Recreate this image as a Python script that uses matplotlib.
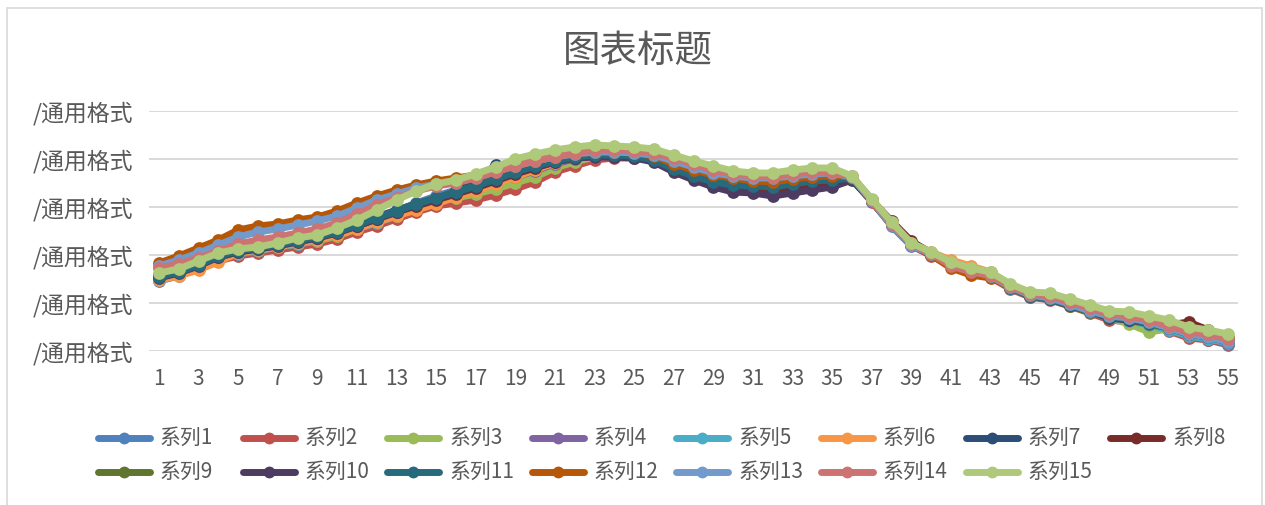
import numpy as np
import matplotlib
matplotlib.use("Agg")
import matplotlib.pyplot as plt
from matplotlib.lines import Line2D
from matplotlib.patches import Rectangle

plt.rcParams['font.family'] = ['Noto Sans CJK SC', 'DejaVu Sans']

title = '图表标题'
ylabel_text = '/通用格式'
categories = np.arange(1, 56)
series_names = ['系列%d' % k for k in range(1, 16)]
colors = ['#4F81BD', '#C0504D', '#9BBB59', '#8064A2', '#4BACC6',
          '#F79646', '#2C4D75', '#772C2A', '#5F7530', '#4D3B62',
          '#276A7C', '#B65708', '#729ACA', '#CD7371', '#AFC97A']

s1 = [70, 75, 83, 93, 99, 101, 105, 108, 111, 118, 125, 132, 140, 148, 155, 161, 168, 175, 182, 188,
      193, 197, 198, 198, 196, 193, 185, 179, 173, 169, 167, 167, 170, 173, 175, 173, 150, 125, 105, 96,
      87, 81, 75, 63, 54, 52, 46, 39, 32, 31, 27, 21, 15, 11, 6]
s2 = [72, 76, 82, 90, 95, 98, 101, 104, 107, 112, 119, 125, 132, 139, 145, 148, 151, 156, 162, 169,
      179, 185, 191, 193, 193, 191, 183, 177, 173, 169, 167, 167, 169, 172, 174, 173, 149, 126, 106, 95,
      86, 79, 74, 62, 54, 51, 45, 38, 31, 29, 25, 20, 13, 11, 7]
s3 = [75, 79, 85, 93, 98, 101, 104, 107, 110, 115, 122, 129, 136, 143, 149, 153, 157, 162, 168, 174,
      183, 189, 194, 196, 195, 193, 186, 179, 174, 170, 168, 167, 170, 173, 175, 174, 151, 127, 107, 97,
      88, 81, 76, 64, 55, 52, 46, 40, 33, 27, 19, 22, 16, 13, 9]
s4 = [73, 78, 85, 94, 99, 102, 105, 109, 113, 118, 124, 131, 138, 146, 152, 157, 162, 168, 174, 180,
      187, 192, 196, 197, 196, 194, 187, 181, 176, 172, 170, 170, 172, 175, 177, 174, 150, 126, 106, 97,
      87, 80, 76, 64, 56, 53, 48, 42, 36, 33, 29, 24, 20, 18, 13]
s5 = [71, 76, 83, 92, 97, 100, 104, 107, 111, 116, 122, 128, 135, 143, 150, 156, 162, 169, 176, 183,
      189, 194, 197, 198, 197, 194, 186, 180, 175, 171, 169, 168, 171, 173, 175, 174, 150, 126, 106, 97,
      87, 80, 75, 63, 55, 52, 46, 39, 33, 30, 26, 21, 15, 12, 8]
s6 = [71, 75, 81, 89, 98, 101, 104, 108, 111, 116, 122, 129, 135, 141, 147, 154, 160, 167, 174, 181,
      188, 194, 197, 198, 196, 193, 185, 179, 174, 170, 169, 169, 172, 174, 176, 174, 151, 128, 108, 99,
      91, 85, 79, 66, 57, 54, 48, 41, 35, 33, 29, 24, 18, 15, 11]
s7 = [75, 79, 87, 95, 100, 103, 107, 111, 114, 120, 127, 134, 141, 147, 152, 160, 170, 186, 184, 187,
      191, 194, 195, 196, 195, 191, 181, 173, 167, 163, 162, 161, 163, 165, 167, 172, 150, 127, 107, 98,
      88, 82, 77, 65, 56, 53, 47, 40, 34, 32, 28, 23, 17, 14, 9]
s8 = [76, 80, 88, 95, 100, 103, 106, 110, 113, 118, 125, 132, 139, 145, 151, 157, 163, 170, 177, 183,
      189, 193, 195, 196, 194, 190, 181, 174, 168, 164, 159, 158, 162, 165, 167, 173, 151, 130, 110, 98,
      87, 81, 76, 64, 56, 53, 47, 41, 34, 33, 29, 26, 29, 21, 13]
s9 = [74, 79, 86, 94, 99, 102, 106, 110, 114, 119, 126, 133, 140, 147, 153, 159, 165, 172, 179, 185,
      191, 195, 197, 197, 196, 193, 184, 177, 172, 168, 167, 166, 169, 171, 173, 173, 151, 128, 108, 98,
      88, 81, 76, 64, 55, 52, 45, 39, 33, 31, 27, 23, 17, 14, 10]
s10 = [73, 78, 85, 94, 99, 102, 105, 109, 113, 119, 125, 132, 139, 146, 152, 158, 164, 171, 178, 184,
       189, 193, 194, 194, 193, 189, 179, 171, 164, 159, 158, 155, 158, 161, 164, 171, 150, 127, 107, 97,
       87, 81, 76, 64, 55, 52, 46, 40, 33, 31, 28, 24, 19, 15, 10]
s11 = [74, 79, 86, 95, 100, 103, 106, 110, 114, 119, 126, 133, 140, 147, 153, 159, 165, 172, 179, 185,
       190, 194, 196, 196, 195, 191, 182, 175, 169, 166, 165, 164, 167, 170, 171, 173, 150, 127, 107, 97,
       87, 80, 75, 63, 55, 52, 46, 40, 34, 32, 28, 23, 17, 14, 11]
s12 = [88, 95, 103, 111, 121, 125, 127, 131, 134, 140, 148, 155, 161, 166, 170, 173, 176, 181, 186, 191,
       195, 197, 199, 199, 198, 195, 187, 181, 176, 173, 170, 169, 172, 174, 175, 174, 151, 128, 107, 96,
       83, 76, 73, 64, 56, 54, 48, 43, 36, 34, 31, 26, 20, 17, 13]
s13 = [85, 91, 98, 106, 114, 119, 122, 126, 130, 135, 143, 151, 157, 163, 167, 170, 174, 180, 185, 190,
       194, 197, 199, 199, 198, 196, 190, 184, 178, 175, 173, 173, 175, 177, 178, 174, 150, 126, 106, 97,
       87, 80, 75, 64, 56, 53, 47, 40, 35, 33, 29, 23, 17, 14, 9]
s14 = [83, 87, 93, 100, 107, 111, 114, 118, 122, 128, 137, 146, 153, 160, 165, 168, 173, 179, 185, 190,
       194, 198, 201, 201, 200, 198, 193, 187, 181, 177, 175, 174, 177, 179, 179, 175, 151, 127, 107, 98,
       85, 79, 76, 65, 57, 55, 49, 43, 37, 35, 31, 25, 19, 17, 12]
s15 = [78, 82, 90, 98, 102, 104, 108, 113, 116, 123, 131, 141, 151, 160, 167, 171, 177, 184, 192, 197,
       201, 204, 206, 205, 204, 202, 196, 190, 185, 180, 178, 178, 181, 183, 183, 175, 152, 129, 108, 99,
       89, 83, 79, 67, 59, 58, 52, 46, 40, 39, 35, 31, 24, 21, 17]

all_series = [s1, s2, s3, s4, s5, s6, s7, s8, s9, s10, s11, s12, s13, s14, s15]
yticks = [0, 48, 96, 144, 192, 240]

W, H = 1265, 505
fig = plt.figure(figsize=(W / 100, H / 100), dpi=100)
txt = '#595959'
lw, ms = 5.0, 9.2

# light frame around the chart
fig.patches.append(Rectangle((7 / W, -0.02), 1255 / W, 1 - 8 / H + 0.02, transform=fig.transFigure,
                             fill=False, edgecolor='#d9d9d9', linewidth=1.2))

ax = fig.add_axes([149 / W, (H - 351) / H, (1238 - 149) / W, (351 - 111) / H])
for y in yticks:
    ax.axhline(y, color='#d9d9d9', linewidth=1.4, zorder=0)

for name, vals, c in zip(series_names, all_series, colors):
    ax.plot(categories, vals, color=c, linewidth=lw, marker='o', markersize=ms,
            markeredgewidth=0, solid_capstyle='round', solid_joinstyle='round', label=name)

ax.set_xlim(0.5, 55.5)
ax.set_ylim(0, 240)
ax.set_xticks(categories[::2])
ax.set_xticklabels([str(v) for v in categories[::2]], fontsize=15, color=txt)
ax.set_yticks(yticks)
ax.set_yticklabels([ylabel_text] * len(yticks), fontsize=16.5, color=txt)
ax.tick_params(length=0, pad=11)
ax.tick_params(axis='x', pad=12)
for sp in ax.spines.values():
    sp.set_visible(False)

fig.text(638 / W, 1 - 51 / H, title, ha='center', va='center', fontsize=27, color=txt)

# legend laid out on a fixed grid, 8 per row
for k, (name, c) in enumerate(zip(series_names, colors)):
    row, col = divmod(k, 8)
    x0 = 98 + col * 144.6
    yy = 1 - (438 + row * 34) / H
    fig.add_artist(Line2D([x0 / W, (x0 + 52) / W], [yy, yy], transform=fig.transFigure,
                          color=c, linewidth=lw, solid_capstyle='round'))
    fig.add_artist(Line2D([(x0 + 26) / W], [yy], transform=fig.transFigure,
                          color=c, marker='o', markersize=8.5, markeredgewidth=0))
    fig.text((x0 + 62) / W, yy, name, ha='left', va='center', fontsize=15, color=txt)

fig.savefig('out.png', dpi=100)
